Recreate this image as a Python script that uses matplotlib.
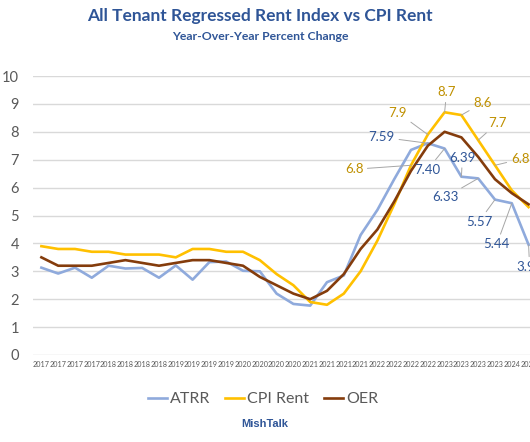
import matplotlib
matplotlib.use("Agg")
import matplotlib.pyplot as plt

# quarterly YoY % change, 2017 Q1 .. 2024 Q2
YEARS = [str(y) for y in range(2017, 2025) for _ in range(4)][:30]
ATRR = [3.13, 2.92, 3.13, 2.77, 3.20, 3.10, 3.12, 2.77, 3.21, 2.70, 3.33, 3.35,
        3.02, 3.00, 2.20, 1.83, 1.77, 2.61, 2.85, 4.30, 5.20, 6.30, 7.35, 7.59,
        7.40, 6.39, 6.33, 5.57, 5.44, 3.95]
CPI_RENT = [3.9, 3.8, 3.8, 3.7, 3.7, 3.6, 3.6, 3.6, 3.5, 3.8, 3.8, 3.7,
            3.7, 3.4, 2.9, 2.5, 1.9, 1.8, 2.2, 3.0, 4.1, 5.4, 6.8, 7.9,
            8.7, 8.6, 7.7, 6.8, 5.9, 5.3]
OER = [3.5, 3.2, 3.2, 3.2, 3.3, 3.4, 3.3, 3.2, 3.3, 3.4, 3.4, 3.3,
       3.2, 2.8, 2.5, 2.2, 2.0, 2.3, 2.9, 3.8, 4.5, 5.5, 6.6, 7.5,
       8.0, 7.8, 7.1, 6.3, 5.8, 5.4]

# labelled points: index -> label offset (pixels)
CPI_LABELS = {22: (-57, -4), 23: (-30, 22), 24: (2, 20), 25: (21, 12),
              26: (19, 17), 27: (25, 6)}
ATRR_LABELS = {23: (-46, 6), 24: (-17, -21), 25: (1, 19), 26: (-33, -19),
               27: (-16, -22), 28: (-15, -41), 29: (1, -22)}

C_ATRR, C_CPI, C_OER = "#8FAADC", "#FFC000", "#843C0C"
C_TXT_BLUE, C_TXT_GOLD = "#2F5597", "#BF9000"
GRAY = "#595959"

plt.rcParams["font.family"] = ["Lato", "DejaVu Sans"]

W, H = 530, 442
fig = plt.figure(figsize=(W / 100, H / 100), dpi=100)
left, right, top, bottom = 33, 537, 76, 355
ax = fig.add_axes([left / W, 1 - bottom / H, (right - left) / W, (bottom - top) / H])

x = list(range(len(YEARS)))
ax.plot(x, ATRR, color=C_ATRR, lw=1.9, label="ATRR", zorder=3)
ax.plot(x, CPI_RENT, color=C_CPI, lw=1.9, label="CPI Rent", zorder=3)
ax.plot(x, OER, color=C_OER, lw=1.9, label="OER", zorder=3)

ax.set_xlim(-0.5, len(YEARS) - 0.5)
ax.set_ylim(0, 10)
ax.set_yticks(range(11))
ax.set_xticks(x)
ax.set_xticklabels(YEARS, fontsize=5.2, color=GRAY)
ax.tick_params(axis="y", labelsize=10.5, colors=GRAY, length=0, pad=10)
ax.tick_params(axis="x", length=0, pad=4)
ax.grid(axis="y", color="#D9D9D9", lw=1)
ax.set_axisbelow(True)
for s in ax.spines.values():
    s.set_visible(False)

leader = dict(arrowstyle="-", color="#A6A6A6", lw=0.7, shrinkA=1, shrinkB=0)
for i, (dx, dy) in CPI_LABELS.items():
    ax.annotate(f"{CPI_RENT[i]:.1f}", (i, CPI_RENT[i]), xytext=(dx, dy),
                textcoords="offset pixels", ha="center", va="center",
                fontsize=9.5, color=C_TXT_GOLD, arrowprops=leader,
                annotation_clip=False, zorder=4)
for i, (dx, dy) in ATRR_LABELS.items():
    ax.annotate(f"{ATRR[i]:.2f}", (i, ATRR[i]), xytext=(dx, dy),
                textcoords="offset pixels", ha="center", va="center",
                fontsize=9.5, color=C_TXT_BLUE, arrowprops=leader,
                annotation_clip=False, zorder=4)

fig.text(260 / W, 1 - 16 / H, "All Tenant Regressed Rent Index vs CPI Rent",
         ha="center", va="center", fontsize=12.5, fontweight="bold", color=C_TXT_BLUE)
fig.text(260 / W, 1 - 37 / H, "Year-Over-Year Percent Change",
         ha="center", va="center", fontsize=8.8, fontweight="bold", color=C_TXT_BLUE)

fig.legend(loc="center", bbox_to_anchor=(263 / W, 1 - 399 / H), ncol=3,
           frameon=False, fontsize=11.5, labelcolor=GRAY, handlelength=1.2,
           handletextpad=0.2, columnspacing=0.9)
fig.text(265 / W, 1 - 424 / H, "MishTalk", ha="center", va="center",
         fontsize=8, fontweight="bold", color=C_TXT_BLUE, family="Liberation Sans")

fig.savefig("out.png", dpi=100)
